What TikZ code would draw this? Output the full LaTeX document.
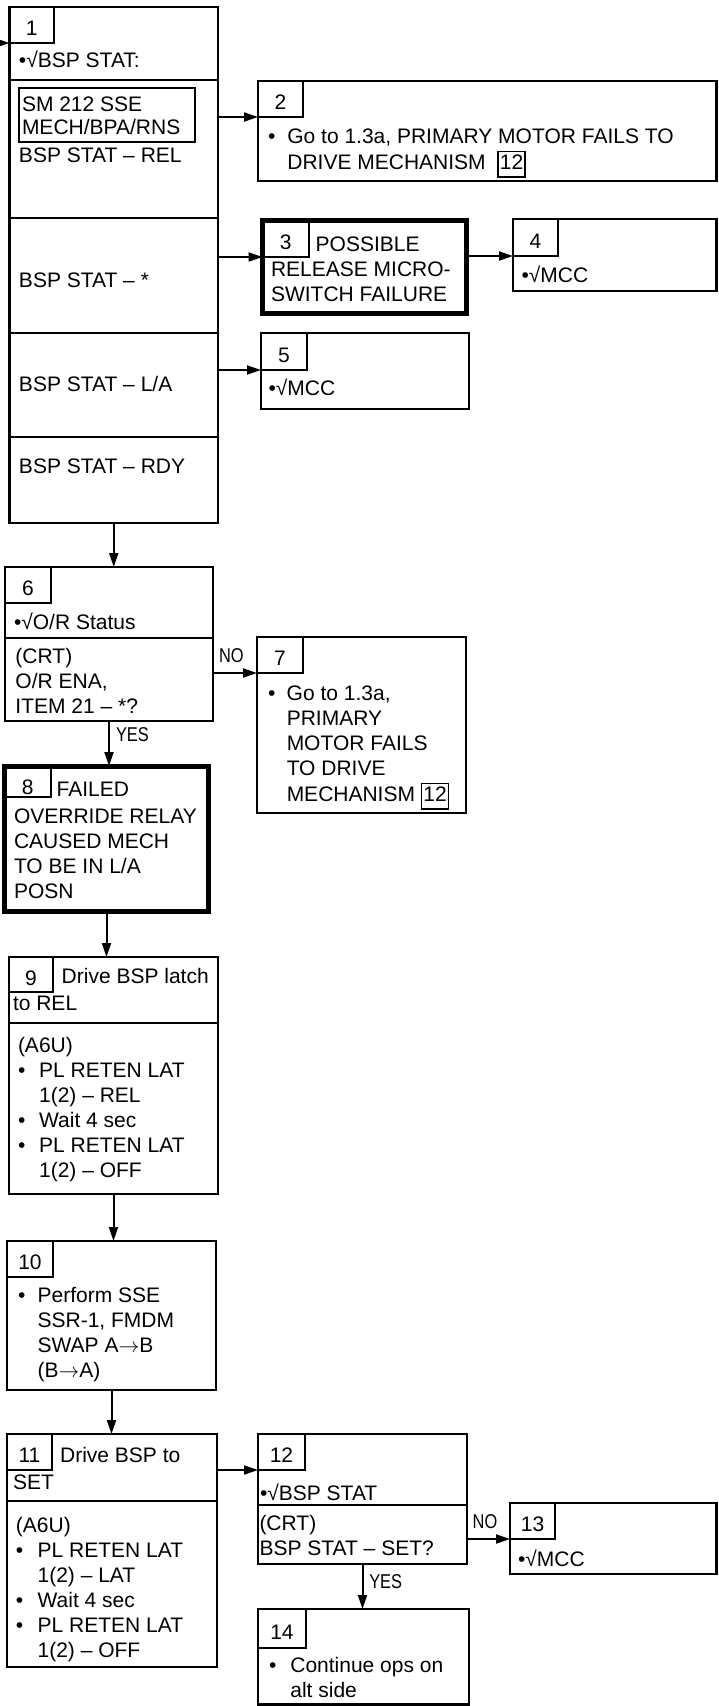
\documentclass[tikz,border=0pt]{standalone}
\usepackage{fontspec}
\setmainfont{Liberation Sans}
\newfontfamily\narrowfont[FakeStretch=0.82]{Liberation Sans}
\usetikzlibrary{arrows.meta}
\newcommand{\refbox}[1]{{\setlength{\fboxsep}{1pt}\setlength{\fboxrule}{1.5pt}\fbox{\rule[-6pt]{0pt}{22pt}#1}}}
\newcommand{\lines}[1]{\begin{tabular}[t]{@{}l@{}}#1\end{tabular}}
\newcommand{\blist}[2]{\begin{tabular}[t]{@{}l@{\hspace{#1}}l@{}}#2\end{tabular}}

\begin{document}
\begin{tikzpicture}[
  x=1pt, y=-1pt, font=\fontsize{21}{25}\selectfont,
  box/.style={draw, line width=2.6pt, anchor=north west, inner sep=0pt, outer sep=0pt},
  heavy/.style={box, line width=5pt},
  numbox/.style={draw, line width=1.5pt, anchor=north west, inner sep=0pt, outer sep=0pt,
                 text height=21pt, text depth=0pt},
  sub/.style={draw, line width=2pt, anchor=north west, inner sep=0pt, outer sep=0pt},
  txt/.style={anchor=base west, inner sep=0pt, outer sep=0pt},
  div/.style={line width=2.6pt},
  fl/.style={-{Triangle[length=14pt, width=9pt]}, line width=2pt},
  lbl/.style={font=\narrowfont\fontsize{20}{24}\selectfont, inner sep=0pt}
]
\useasboundingbox (0,0) rectangle (718,1706);

% ---- 1: BSP status
\node[box, minimum width=208.5pt, minimum height=516pt] (b1) at (9.5,7) {};
\node[numbox, minimum width=44.5pt, minimum height=36pt] (n1) at (9.5,7) {1};
\foreach \y in {80,218,333,437}{\draw[div] (9.5,\y) -- ++(208.5,0);}
\node[sub, minimum width=176pt, minimum height=54pt] (sm) at (19,88) {};
\node[txt] (t1a) at (19,67) {•√BSP STAT:};
\node[txt] (t1b) at (22,111) {\lines{SM 212 SSE\\[-2pt] MECH/BPA/RNS}};
\node[txt] (t1c) at (19,162) {BSP STAT – REL};
\node[txt] (t1d) at (19,287) {BSP STAT – *};
\node[txt] (t1e) at (19,391) {BSP STAT – L/A};
\node[txt] (t1f) at (19,473) {BSP STAT – RDY};
\coordinate (entry) at (0,43);
\draw[fl] (entry) -- (n1.south west);

% ---- 2 to 5
\node[box, minimum width=458.5pt, minimum height=100pt] (b2) at (258,81) {};
\node[numbox, minimum width=45pt, minimum height=36pt] (n2) at (258,81) {2};
\node[txt] (t2) at (268,143) {\blist{12pt}{• & Go to 1.3a, PRIMARY MOTOR FAILS TO\\ & DRIVE MECHANISM\ \ \refbox{12}}};

\node[heavy, minimum width=204.2pt, minimum height=93pt] (b3) at (262.5,220.5) {};
\node[numbox, minimum width=46.5pt, minimum height=36.5pt] (n3) at (262.5,220.5) {3};
\node[txt] (t3) at (271,251) {\lines{\hspace{44.7pt}POSSIBLE\\ RELEASE MICRO-\\ SWITCH FAILURE}};

\node[box, minimum width=203.5pt, minimum height=72pt] (b4) at (513,219) {};
\node[numbox, minimum width=45pt, minimum height=37pt] (n4) at (513,219) {4};
\node[txt] (t4) at (521.5,282) {•√MCC};

\node[box, minimum width=208pt, minimum height=76pt] (b5) at (261,333) {};
\node[numbox, minimum width=46pt, minimum height=37pt] (n5) at (261,333) {5};
\node[txt] (t5) at (268.5,395) {•√MCC};

\draw[fl] (b1.east |- n2.south west) -- (n2.south west);
\draw[fl] (b1.east |- n3.south west) -- (n3.south west);
\draw[fl] (b3.east |- n4.south west) -- (n4.south west);
\draw[fl] (b1.east |- n5.south west) -- (n5.south west);

% ---- 6: override status
\node[box, minimum width=208pt, minimum height=154pt] (b6) at (5,567) {};
\node[numbox, minimum width=46pt, minimum height=36pt] (n6) at (5,567) {6};
\draw[div] (5,638) -- ++(208,0);
\node[txt] (t6a) at (14,629) {•√O/R Status};
\node[txt] (t6b) at (15.5,663) {\lines{(CRT)\\ O/R ENA,\\ ITEM 21 – *?}};
\draw[fl] (b1.south) -- (b1.south |- b6.north);

\node[box, minimum width=209pt, minimum height=176pt] (b7) at (257,637) {};
\node[numbox, minimum width=46pt, minimum height=36pt] (n7) at (257,637) {7};
\node[txt] (t7) at (268,700) {\blist{11.4pt}{• & Go to 1.3a,\\ & PRIMARY\\ & MOTOR FAILS\\ & TO DRIVE\\ & MECHANISM \refbox{12}}};
\draw[fl] (b6.east |- n7.south west) -- (n7.south west)
  node[lbl, at start, anchor=south west, xshift=5pt, yshift=9pt] {NO};

% ---- 8: failed relay
\node[heavy, minimum width=204pt, minimum height=145.5pt] (b8) at (4.5,766) {};
\node[numbox, minimum width=46.5pt, minimum height=31pt, text height=25pt] (n8) at (4.5,766) {8};
\node[txt] (t8) at (14,796) {\lines{\hspace{42.7pt}FAILED\\[2pt] OVERRIDE RELAY\\ CAUSED MECH\\ TO BE IN L/A\\ POSN}};
\draw[fl] (b6.south) -- (b6.south |- b8.north)
  node[lbl, at start, anchor=north west, xshift=6pt, yshift=-5.7pt] {YES};

% ---- 9 to 11
\node[box, minimum width=209pt, minimum height=237pt] (b9) at (9,957) {};
\node[numbox, minimum width=44pt, minimum height=35pt] (n9) at (9,957) {9};
\draw[div] (9,1023) -- ++(209,0);
\node[txt] (t9a) at (13,983) {\lines{\hspace{48.7pt}Drive BSP latch\\[2pt] to REL}};
\node[txt] (t9b) at (18,1052) {\blist{13.8pt}{\multicolumn{2}{@{}l@{}}{(A6U)}\\ • & PL RETEN LAT\\ & 1(2) – REL\\ • & Wait 4 sec\\ • & PL RETEN LAT\\ & 1(2) – OFF}};
\draw[fl] (b8.south) -- (b8.south |- b9.north);

\node[box, minimum width=209pt, minimum height=149pt] (b10) at (7,1241) {};
\node[numbox, minimum width=46pt, minimum height=36pt] (n10) at (7,1241) {10};
\node[txt] (t10) at (18,1302) {\blist{12.3pt}{• & Perform SSE\\ & SSR-1, FMDM\\ & SWAP A$\rightarrow$B\\ & (B$\rightarrow$A)}};
\draw[fl] (b9.south) -- (b9.south |- b10.north);

\node[box, minimum width=210pt, minimum height=233pt] (b11) at (7,1434) {};
\node[numbox, minimum width=45pt, minimum height=36pt] (n11) at (7,1434) {11};
\draw[div] (7,1501) -- ++(210,0);
\node[txt] (t11a) at (13,1462) {\lines{\hspace{47.1pt}Drive BSP to\\[2pt] SET}};
\node[txt] (t11b) at (16,1532) {\blist{14.3pt}{\multicolumn{2}{@{}l@{}}{(A6U)}\\ • & PL RETEN LAT\\ & 1(2) – LAT\\ • & Wait 4 sec\\ • & PL RETEN LAT\\ & 1(2) – OFF}};
\draw[fl] (b10.south) -- (b10.south |- b11.north);

% ---- 12 to 14
\node[box, minimum width=209pt, minimum height=130pt] (b12) at (258,1434) {};
\node[numbox, minimum width=47pt, minimum height=36pt] (n12) at (258,1434) {12};
\draw[div] (258,1505) -- ++(209,0);
\node[txt] (t12a) at (260,1500) {•√BSP STAT};
\node[txt] (t12b) at (259.5,1530) {\lines{(CRT)\\ BSP STAT – SET?}};
\draw[fl] (b11.east |- n12.south west) -- (n12.south west);

\node[box, minimum width=206.5pt, minimum height=71pt] (b13) at (510,1503) {};
\node[numbox, minimum width=45pt, minimum height=36pt] (n13) at (510,1503) {13};
\node[txt] (t13) at (518,1566) {•√MCC};
\draw[fl] (b12.east |- n13.south west) -- (n13.south west)
  node[lbl, at start, anchor=south west, xshift=4.7pt, yshift=9pt] {NO};

\node[box, minimum width=211pt, minimum height=95.5pt] (b14) at (258,1609) {};
\node[numbox, minimum width=48pt, minimum height=39pt] (n14) at (258,1609) {14};
\node[txt] (t14) at (269,1672) {\blist{14pt}{• & Continue ops on\\ & alt side}};
\draw[fl] (b12.south) -- (b12.south |- b14.north)
  node[lbl, at start, anchor=north west, xshift=5.8pt, yshift=-9.4pt] {YES};
\end{tikzpicture}
\end{document}
